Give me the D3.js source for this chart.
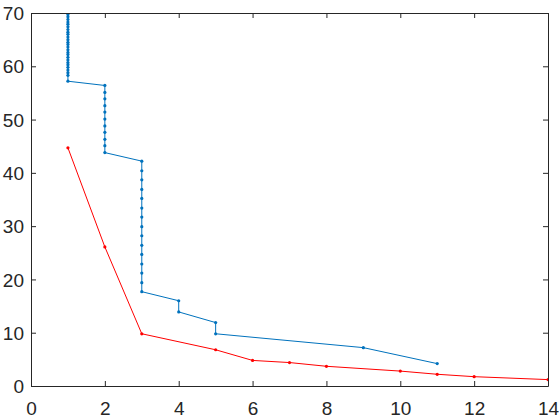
<!DOCTYPE html>
<html>
<head>
<meta charset="utf-8">
<script src="https://cdn.jsdelivr.net/npm/d3@7"></script>
<style>
  body { margin: 0; background: #fff; }
</style>
</head>
<body>
<svg class="chart"></svg>
<script>
// blue series (step-like descent)
var blueX = [1, 1, 1, 1, 1, 1, 1, 1, 1, 1, 1, 1, 1, 1, 1, 1, 1, 1, 1, 1, 1, 1, 1, 1, 1, 1, 1, 1,
  2, 2, 2, 2, 2, 2, 2, 2, 2, 2, 2,
  3, 3, 3, 3, 3, 3, 3, 3, 3, 3, 3, 3, 3, 3, 3,
  4, 4, 5, 5, 9, 11];
var blueY = [70.7, 70.2, 69.7, 69.3, 68.8, 68.3, 67.9, 67.4, 66.9, 66.4, 66.0, 65.5, 65.0, 64.5, 64.1,
  63.6, 63.1, 62.6, 62.2, 61.7, 61.2, 60.7, 60.3, 59.8, 59.3, 58.8, 58.3, 57.2,
  56.4, 55.1, 53.9, 52.6, 51.4, 50.1, 48.8, 47.6, 46.3, 45.1, 43.8,
  42.2, 40.4, 38.7, 36.9, 35.2, 33.4, 31.7, 29.9, 28.2, 26.4, 24.7, 22.9, 21.2, 19.4, 17.7,
  16.0, 13.9, 11.9, 9.8, 7.2, 4.2];

// red series
var redX = [1, 2, 3, 5, 6, 7, 8, 10, 11, 12, 14];
var redY = [44.7, 26.1, 9.8, 6.8, 4.8, 4.4, 3.7, 2.8, 2.2, 1.75, 1.2];

var xTicks = [0, 2, 4, 6, 8, 10, 12, 14];
var yTicks = [0, 10, 20, 30, 40, 50, 60, 70];

var W = 560, H = 420;
var pLeft = 31, pRight = 548, pTop = 13, pBottom = 386;

var svg = d3.select('.chart').attr('width', W).attr('height', H);

var x = d3.scaleLinear().domain([0, 14]).range([pLeft, pRight]);
var y = d3.scaleLinear().domain([0, 70]).range([pBottom, pTop]);

svg.append('clipPath').attr('id', 'clip')
  .append('rect')
  .attr('x', pLeft).attr('y', pTop)
  .attr('width', pRight - pLeft).attr('height', pBottom - pTop);

var plot = svg.append('g').attr('clip-path', 'url(#clip)');

function drawSeries(xs, ys, color) {
  var pts = xs.map((d, i) => [d, ys[i]]);
  var line = d3.line().x(d => x(d[0])).y(d => y(d[1]));
  plot.append('path')
    .datum(pts)
    .attr('d', line)
    .attr('fill', 'none')
    .attr('stroke', color)
    .attr('stroke-width', 1);
  plot.selectAll(null)
    .data(pts)
    .enter().append('circle')
    .attr('cx', d => x(d[0]))
    .attr('cy', d => y(d[1]))
    .attr('r', 1.6)
    .attr('fill', color);
}

drawSeries(blueX, blueY, '#0072BD');
drawSeries(redX, redY, '#FF0000');

// axes (MATLAB style box with inward ticks)
var axisColor = '#262626';
var tl = 5;

var gx = svg.append('g').attr('class', 'axis x')
  .attr('transform', 'translate(0,' + pBottom + ')')
  .call(d3.axisBottom(x).tickValues(xTicks).tickSizeInner(-tl).tickSizeOuter(0).tickPadding(15.5));
var gy = svg.append('g').attr('class', 'axis y')
  .attr('transform', 'translate(' + pLeft + ',0)')
  .call(d3.axisLeft(y).tickValues(yTicks).tickSizeInner(-tl).tickSizeOuter(0).tickPadding(7));
svg.append('g').attr('class', 'axis')
  .attr('transform', 'translate(0,' + pTop + ')')
  .call(d3.axisTop(x).tickValues(xTicks).tickSizeInner(-tl).tickSizeOuter(0).tickFormat(''));
svg.append('g').attr('class', 'axis')
  .attr('transform', 'translate(' + pRight + ',0)')
  .call(d3.axisRight(y).tickValues(yTicks).tickSizeInner(-tl).tickSizeOuter(0).tickFormat(''));

svg.selectAll('.axis path, .axis line').attr('stroke', axisColor).attr('stroke-width', 1);
svg.selectAll('.axis text')
  .attr('font-family', '"Liberation Sans", Arial, sans-serif')
  .attr('font-size', 19)
  .attr('fill', axisColor);
gy.selectAll('text').attr('dy', '0.35em');
</script>
</body>
</html>
